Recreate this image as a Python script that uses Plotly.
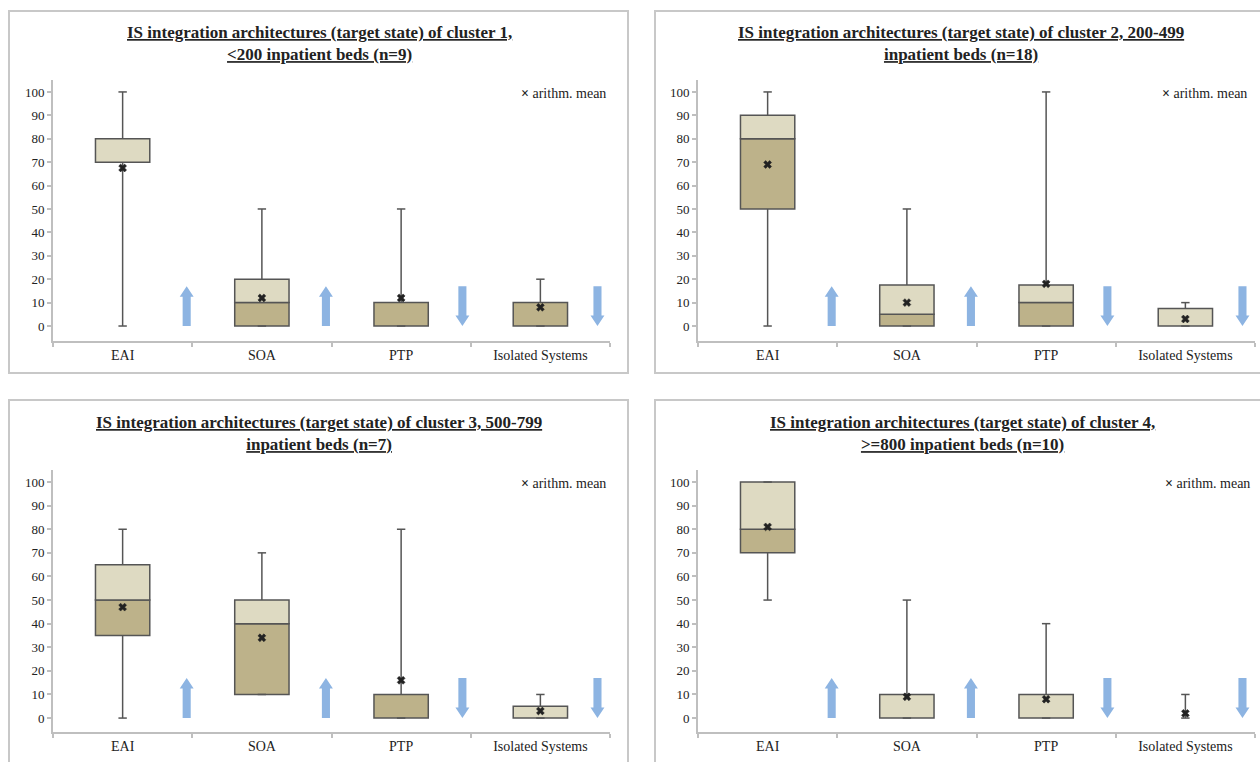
import plotly.graph_objects as go

# ---------------- data ----------------
categories = ["EAI", "SOA", "PTP", "Isolated Systems"]
trend = ["up", "up", "down", "down"]          # expected development (blue arrows)

titles = [
    "IS integration architectures (target state) of cluster 1,<br><200 inpatient beds (n=9)",
    "IS integration architectures (target state) of cluster 2, 200-499<br>inpatient beds (n=18)",
    "IS integration architectures (target state) of cluster 3, 500-799<br>inpatient beds (n=7)",
    "IS integration architectures (target state) of cluster 4,<br>>=800 inpatient beds (n=10)",
]

# cluster 1
c1_min = [0, 0, 0, 0]
c1_q1 = [70, 0, 0, 0]
c1_med = [70, 10, 10, 10]
c1_q3 = [80, 20, 10, 10]
c1_max = [100, 50, 50, 20]
c1_mean = [67.5, 12, 12, 8]

# cluster 2
c2_min = [0, 0, 0, 0]
c2_q1 = [50, 0, 0, 0]
c2_med = [80, 5, 10, 0]
c2_q3 = [90, 17.5, 17.5, 7.5]
c2_max = [100, 50, 100, 10]
c2_mean = [69, 10, 18, 3]

# cluster 3
c3_min = [0, 10, 0, 0]
c3_q1 = [35, 10, 0, 0]
c3_med = [50, 40, 10, 0]
c3_q3 = [65, 50, 10, 5]
c3_max = [80, 70, 80, 10]
c3_mean = [47, 34, 16, 3]

# cluster 4
c4_min = [50, 0, 0, 0]
c4_q1 = [70, 0, 0, 0]
c4_med = [80, 0, 0, 0]
c4_q3 = [100, 10, 10, 0]
c4_max = [100, 50, 40, 10]
c4_mean = [81, 9, 8, 2]

clusters = [
    (c1_min, c1_q1, c1_med, c1_q3, c1_max, c1_mean),
    (c2_min, c2_q1, c2_med, c2_q3, c2_max, c2_mean),
    (c3_min, c3_q1, c3_med, c3_q3, c3_max, c3_mean),
    (c4_min, c4_q1, c4_med, c4_q3, c4_max, c4_mean),
]

yticks = list(range(0, 101, 10))

# ---------------- styling / layout ----------------
W, H = 1260, 762
FONT = "Liberation Serif, Times New Roman, serif"
DARK = "#BDB28A"
LIGHT = "#DEDAC2"
EDGE = "#555555"
ARROW = "#8DB4E2"
AXIS = "#BFBFBF"

# plot areas in pixels: (x0, x1, ytop, ybottom, yrange)
areas = [
    (53, 610, 80, 341, [-6.4, 105.1]),
    (698, 1255, 80, 341, [-6.4, 105.1]),
    (53, 610, 470, 732, [-5.9, 105.1]),
    (698, 1255, 470, 732, [-5.9, 105.1]),
]
frames = [(9, 628, 11, 373), (655, 1280, 11, 373), (9, 628, 400, 780), (655, 1280, 400, 780)]
title_pos = [(319, 44), (961, 44), (319, 434), (963, 434)]
legend_pos = [(519, 93), (1160, 93), (519, 483), (1163, 483)]
arrow_off = [0.46, 0.46, 0.44, 0.41]

fig = go.Figure()
layout = dict(
    width=W, height=H, autosize=False,
    margin=dict(l=0, r=0, t=0, b=0),
    paper_bgcolor="white", plot_bgcolor="white",
    showlegend=False, barmode="overlay",
    font=dict(family=FONT, color="#222222"),
)
shapes, annotations = [], []

for p, (mins, q1, med, q3, mx, mean) in enumerate(clusters):
    sfx = "" if p == 0 else str(p + 1)
    xa, ya = "x" + sfx, "y" + sfx
    x0, x1, yt, yb, yr = areas[p]
    idx = list(range(len(categories)))

    lower = [m - a if m - a > 0 else None for a, m in zip(q1, med)]
    upper = [b - m if b - m > 0 else None for m, b in zip(med, q3)]

    fig.add_trace(go.Bar(x=idx, y=lower, base=q1, width=0.39, xaxis=xa, yaxis=ya,
                         marker=dict(color=DARK, line=dict(color=EDGE, width=1.5))))
    fig.add_trace(go.Bar(x=idx, y=upper, base=med, width=0.39, xaxis=xa, yaxis=ya,
                         marker=dict(color=LIGHT, line=dict(color=EDGE, width=1.5))))

    wx, wy = [], []
    for i in idx:
        wx += [i, i, None, i, i, None]
        wy += [mins[i], q1[i], None, q3[i], mx[i], None]
    fig.add_trace(go.Scatter(x=wx, y=wy, mode="lines", xaxis=xa, yaxis=ya,
                             line=dict(color=EDGE, width=1.5), hoverinfo="skip"))
    fig.add_trace(go.Scatter(x=idx + idx, y=list(mins) + list(mx), mode="markers",
                             xaxis=xa, yaxis=ya,
                             marker=dict(symbol="line-ew", size=6,
                                         line=dict(color=EDGE, width=1.5))))
    fig.add_trace(go.Scatter(x=idx, y=mean, mode="markers", xaxis=xa, yaxis=ya,
                             name="arithm. mean",
                             marker=dict(symbol="x", size=7, color="#222222",
                                         line=dict(width=0.5, color="#222222"))))

    # blue trend arrows
    for i, d in enumerate(trend):
        c = i + arrow_off[i]
        sw, hw = 0.029, 0.05
        if d == "up":
            path = (f"M {c-sw},0 L {c-sw},12.5 L {c-hw},12.5 L {c},17 L {c+hw},12.5 "
                    f"L {c+sw},12.5 L {c+sw},0 Z")
        else:
            path = (f"M {c-sw},17 L {c-sw},4.5 L {c-hw},4.5 L {c},0 L {c+hw},4.5 "
                    f"L {c+sw},4.5 L {c+sw},17 Z")
        shapes.append(dict(type="path", path=path, xref=xa, yref=ya,
                           fillcolor=ARROW, line=dict(width=0), layer="above"))

    layout["xaxis" + sfx] = dict(
        domain=[x0 / W, x1 / W], anchor=ya, range=[-0.5, 3.5],
        tickmode="array", tickvals=idx, ticktext=categories, ticks="",
        showline=True, linecolor=AXIS, linewidth=2, showgrid=False, zeroline=False,
        tickfont=dict(family=FONT, size=14, color="#222222"),
        minor=dict(tickvals=[-0.5, 0.5, 1.5, 2.5, 3.5], ticks="outside",
                   ticklen=4, tickcolor=AXIS, tickwidth=1.5, showgrid=False),
        fixedrange=True,
    )
    layout["yaxis" + sfx] = dict(
        domain=[1 - yb / H, 1 - yt / H], anchor=xa, range=yr,
        tickmode="array", tickvals=yticks, ticks="outside", ticklen=4,
        tickcolor=AXIS, tickwidth=1.5,
        showline=True, linecolor=AXIS, linewidth=2, showgrid=False, zeroline=False,
        tickfont=dict(family=FONT, size=13, color="#222222"),
        fixedrange=True,
    )

    fx0, fx1, fy0, fy1 = frames[p]
    shapes.append(dict(type="rect", xref="paper", yref="paper",
                       x0=fx0 / W, x1=fx1 / W, y0=1 - fy1 / H, y1=1 - fy0 / H,
                       line=dict(color="#C8C8C8", width=2), fillcolor="rgba(0,0,0,0)",
                       layer="below"))

    tx, ty = title_pos[p]
    annotations.append(dict(text="<u><b>" + titles[p].replace("<br>", "</b></u><br><u><b>") + "</b></u>",
                            xref="paper", yref="paper", x=tx / W, y=1 - ty / H,
                            xanchor="center", yanchor="middle", showarrow=False,
                            font=dict(family=FONT, size=17, color="#222222")))
    lx, ly = legend_pos[p]
    annotations.append(dict(text="<b>×</b> arithm. mean", xref="paper", yref="paper",
                            x=lx / W, y=1 - ly / H, xanchor="left", yanchor="middle",
                            showarrow=False,
                            font=dict(family=FONT, size=14, color="#222222")))

layout["shapes"] = shapes
layout["annotations"] = annotations
fig.update_layout(**layout)
fig.write_html("out.html", config={"displayModeBar": False},
               post_script="document.body.style.margin='0';document.body.style.overflow='hidden';")
